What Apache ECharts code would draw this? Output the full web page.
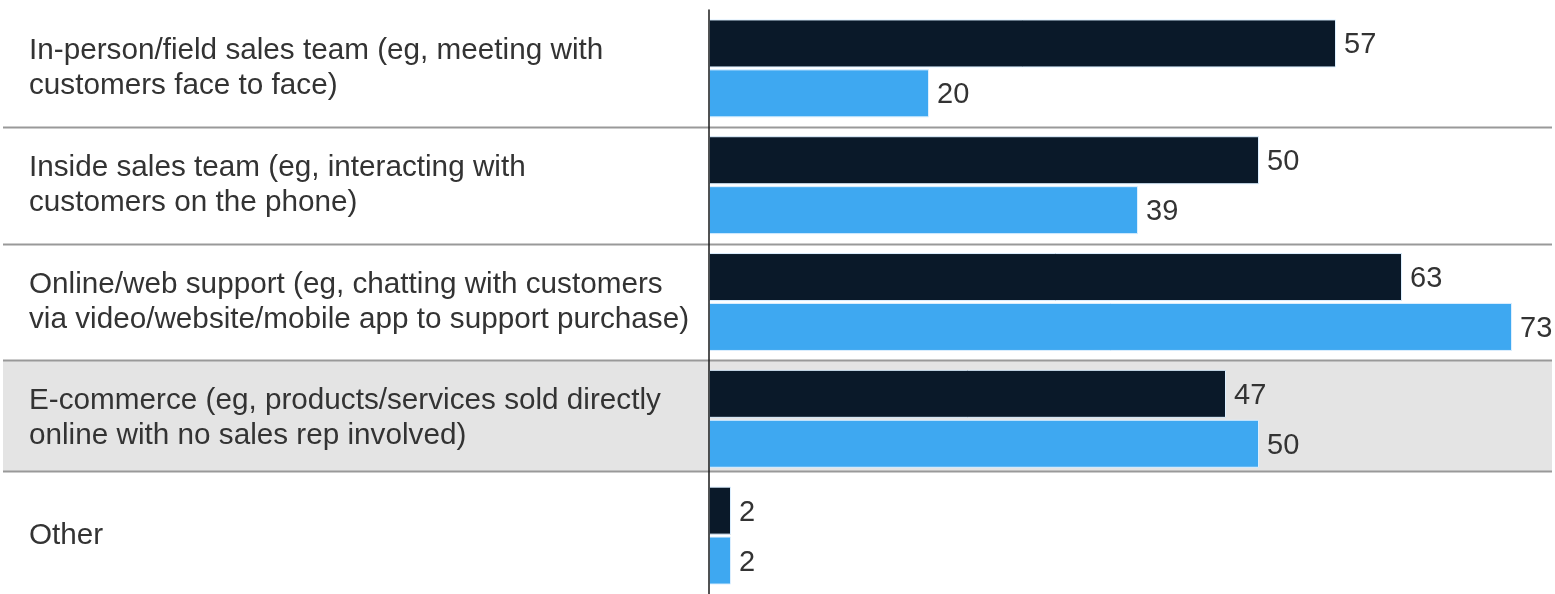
<!DOCTYPE html>
<html>
<head>
<meta charset="utf-8">
<script src="https://cdn.jsdelivr.net/npm/echarts@6/dist/echarts.min.js"></script>
<style>
  html, body { margin: 0; padding: 0; background: #ffffff; }
  #chart { width: 1555px; height: 594px; }
</style>
</head>
<body>
<div id="chart"></div>
<script>
// Sales channels (top to bottom)
const categories = [
  'In-person/field sales team (eg, meeting with\ncustomers face to face)',
  'Inside sales team (eg, interacting with\ncustomers on the phone)',
  'Online/web support (eg, chatting with customers\nvia video/website/mobile app to support purchase)',
  'E-commerce (eg, products/services sold directly\nonline with no sales rep involved)',
  'Other'
];
// Share of respondents, %
const earlierValues = [57, 50, 63, 47, 2];
const nowValues = [20, 39, 73, 50, 2];
// Rows drawn on a shaded band
const highlighted = [categories[3]];

const chart = echarts.init(document.getElementById('chart'), null, { renderer: 'canvas' });

const textColor = '#333333';
const fontFamily = '"Liberation Sans", Arial, Helvetica, sans-serif';

// Full-width band behind a highlighted row
function renderBand(params, api) {
  const idx = api.value(1);
  const center = api.coord([0, idx]);
  const band = api.size([0, 1])[1];
  const w = api.getWidth();
  return {
    type: 'rect',
    shape: { x: 3, y: center[1] - band / 2, width: w - 6, height: band - 6 },
    style: { fill: '#e4e4e4' },
    z2: 0
  };
}

// Grey rule under every row except the last
function renderRule(params, api) {
  const idx = api.value(1);
  const center = api.coord([0, idx]);
  const band = api.size([0, 1])[1];
  const w = api.getWidth();
  const y = Math.round(center[1] + band / 2 - (idx === 3 ? 6 : 0)) + 0.5;
  return {
    type: 'line',
    shape: { x1: 3, y1: y, x2: w - 3, y2: y },
    style: { stroke: '#999999', lineWidth: 2 }
  };
}

const valueLabel = {
  show: true,
  position: 'right',
  distance: 8,
  offset: [0, 2],
  color: textColor,
  fontSize: 29,
  fontFamily: fontFamily
};

chart.setOption({
  animation: false,
  backgroundColor: '#ffffff',
  grid: { left: 709, top: 10, width: 836, height: 590, containLabel: false },
  xAxis: {
    type: 'value',
    min: 0,
    max: 76,
    show: false
  },
  yAxis: {
    type: 'category',
    inverse: true,
    data: categories,
    axisLine: { show: true, lineStyle: { color: '#1a1a1a', width: 1.5 } },
    axisTick: { show: false },
    splitLine: { show: false },
    axisLabel: {
      align: 'left',
      margin: 680,
      color: textColor,
      fontSize: 29.7,
      lineHeight: 35,
      fontFamily: fontFamily
    },
    z: 10
  },
  series: [
    {
      name: 'band',
      type: 'custom',
      renderItem: renderBand,
      clip: false,
      silent: true,
      z: 0,
      data: highlighted.map(c => [0, categories.indexOf(c)])
    },
    {
      name: 'rules',
      type: 'custom',
      renderItem: renderRule,
      clip: false,
      silent: true,
      z: 1,
      data: categories.slice(0, categories.length - 1).map((c, i) => [0, i])
    },
    {
      name: 'Earlier',
      type: 'bar',
      data: earlierValues,
      barWidth: 48,
      barGap: '4%',
      z: 5,
      itemStyle: { color: '#0a1929', borderColor: '#dcefff', borderWidth: 1 },
      label: valueLabel
    },
    {
      name: 'Now',
      type: 'bar',
      data: nowValues,
      barWidth: 48,
      z: 5,
      itemStyle: { color: '#3ea8f1', borderColor: '#dcefff', borderWidth: 1 },
      label: valueLabel
    }
  ]
});
</script>
</body>
</html>
